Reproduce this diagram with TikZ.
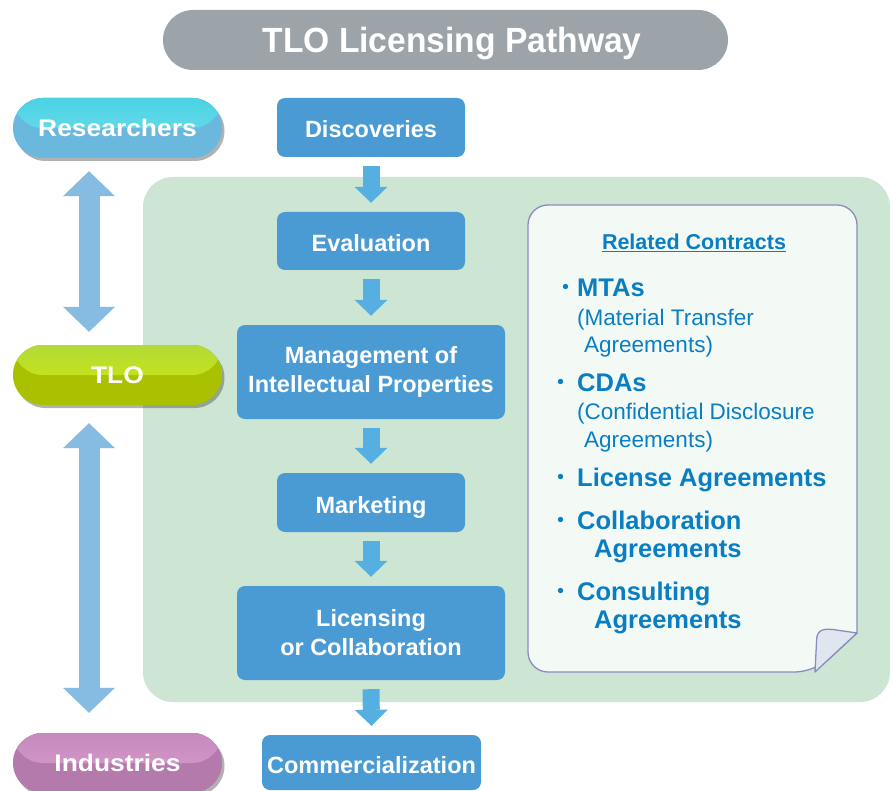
\documentclass[tikz,border=0pt]{standalone}
\usepackage{fontspec}
\usepackage{graphicx}
\setmainfont{Liberation Sans}
\newfontfamily\cjkfont{Noto Sans CJK JP}
\usetikzlibrary{arrows.meta,shadows,calc}

\definecolor{titlegray}{HTML}{9CA4A9}
\definecolor{bggreen}{HTML}{CDE6D3}
\definecolor{boxblue}{HTML}{4A9BD4}
\definecolor{arrowblue}{HTML}{55AFE1}
\definecolor{dblblue}{HTML}{86BBE2}
\definecolor{notetext}{HTML}{0A7EC3}
\definecolor{notefill}{HTML}{F3FAF6}
\definecolor{noteline}{HTML}{8A8CC0}
\definecolor{foldfill}{HTML}{E0E6F0}
\definecolor{restop}{HTML}{4AD3E4}
\definecolor{resmid}{HTML}{78DEEB}
\definecolor{resbot}{HTML}{6AB8DE}
\definecolor{tlotop}{HTML}{B2DB38}
\definecolor{tlomid}{HTML}{D4E800}
\definecolor{tlobot}{HTML}{A9C100}
\definecolor{indtop}{HTML}{C68ABD}
\definecolor{indmid}{HTML}{D9A0CD}
\definecolor{indbot}{HTML}{B47AAB}

\tikzset{
  titlepill/.style={fill=titlegray, rounded corners=30pt, minimum width=565pt, minimum height=60pt, inner sep=0pt, text=white,
    font=\fontsize{35}{40}\selectfont\bfseries, text height=25pt, text depth=0pt},
  panel/.style={fill=bggreen, rounded corners=30pt, minimum width=747pt, minimum height=525pt, inner sep=0pt},
  pillbase/.style={minimum width=209pt, minimum height=60pt, rounded corners=30pt, inner sep=0pt, text=white,
    font=\fontsize{24}{28}\selectfont\bfseries, text height=17.5pt, text depth=0pt,
    drop shadow={shadow xshift=2.5pt, shadow yshift=-3pt, opacity=0.4, fill=black!75}},
  respill/.style={pillbase, fill=resbot, path picture={\fill[top color=restop, bottom color=resmid]
      (path picture bounding box.north west) rectangle (path picture bounding box.east);}},
  tlopill/.style={pillbase, fill=tlobot, path picture={\fill[top color=tlotop, bottom color=tlomid]
      (path picture bounding box.north west) rectangle (path picture bounding box.east);}},
  indpill/.style={pillbase, fill=indbot, path picture={\fill[top color=indtop, bottom color=indmid]
      (path picture bounding box.north west) rectangle (path picture bounding box.east);}},
  bluebox/.style={fill=boxblue, rounded corners=8pt, inner sep=0pt, text=white, align=center,
    font=\fontsize{23.5}{29}\selectfont\bfseries},
  oneline/.style={text height=21pt, text depth=0pt},
  smallarrow/.style={draw=arrowblue, line width=17pt, -{Triangle[width=33pt,length=16pt,line width=0pt]}},
  dblarrow/.style={draw=dblblue, line width=21pt,
    {Triangle[width=52pt,length=25pt,line width=0pt]}-{Triangle[width=52pt,length=25pt,line width=0pt]}},
  notecard/.style={draw=noteline, fill=notefill, line width=1.3pt},
  notehead/.style={anchor=base west, inner sep=0pt, text=notetext, font=\fontsize{25.5}{30}\selectfont\bfseries},
  notesub/.style={anchor=base west, inner sep=0pt, text=notetext, font=\fontsize{22.5}{26}\selectfont},
  notebullet/.style={anchor=base, inner sep=0pt, text=notetext, font=\cjkfont\fontsize{25}{30}\selectfont},
}

\begin{document}
\begin{tikzpicture}[x=1pt,y=-1pt]
\useasboundingbox (0,0) rectangle (893,791);
\fill[white] (0,0) rectangle (893,791);

% background panel
\node[panel] (panel) at (516.5,439.5) {};

% title
\node[titlepill] (title) at (445.5,40) {\hspace*{13pt}\scalebox{0.96}[1]{TLO Licensing Pathway}};

% left pills
\node[respill] (res) at (117.5,128) {\scalebox{1.1}[1]{Researchers}};
\node[tlopill] (tlo) at (117.5,375) {\scalebox{1.1}[1]{TLO}};
\node[indpill] (ind) at (117.5,763) {\scalebox{1.1}[1]{Industries}};

\coordinate (ax) at (89,0);
\draw[dblarrow] ($(res.south -| ax)+(0,13)$) -- ($(tlo.north -| ax)+(0,-13)$);
\draw[dblarrow] ($(tlo.south -| ax)+(0,18)$) -- ($(ind.north -| ax)+(0,-20)$);

% pathway boxes
\node[bluebox, oneline, minimum width=188pt, minimum height=59pt] (disc) at (371,127.5) {Discoveries};
\node[bluebox, oneline, minimum width=188pt, minimum height=58pt] (eval) at (371,241) {Evaluation};
\node[bluebox, minimum width=268pt, minimum height=94pt] (mgmt) at (371,372) {\raisebox{-2pt}{\parbox{260pt}{\centering Management of\\Intellectual Properties}}};
\node[bluebox, oneline, minimum width=188pt, minimum height=59pt] (mkt) at (371,502.5) {Marketing};
\node[bluebox, minimum width=268pt, minimum height=94pt] (lic) at (371,633) {\raisebox{-2pt}{\parbox{260pt}{\centering Licensing\\or Collaboration}}};
\node[bluebox, oneline, minimum width=219pt, minimum height=55pt] (comm) at (371.5,762.5) {Commercialization};

\draw[smallarrow] ([yshift=-9pt]disc.south) -- ([yshift=9pt]eval.north);
\draw[smallarrow] ([yshift=-9pt]eval.south) -- ([yshift=9pt]mgmt.north);
\draw[smallarrow] ([yshift=-9pt]mgmt.south) -- ([yshift=9pt]mkt.north);
\draw[smallarrow] ([yshift=-9pt]mkt.south) -- ([yshift=9pt]lic.north);
\draw[smallarrow] ([yshift=-9pt]lic.south) -- ([yshift=9pt]comm.north);

% note card
\draw[notecard] (857,633) [rounded corners=20pt] -- (857,205) -- (528,205) -- (528,672) -- (815,672) [sharp corners] -- cycle;
\draw[notecard, fill=foldfill, line join=round] (857,633) -- (833,629.5) .. controls (820,628) and (816.5,632) .. (816.5,642) -- (815,672) -- cycle;

\node[anchor=base, inner sep=0pt, text=notetext, font=\fontsize{21.5}{26}\selectfont\bfseries] (rc) at (694,250) {\underline{Related Contracts}};

\node[notebullet] (b1) at (566,297) {・};
\node[notehead] (mta) at (577,297) {MTAs};
\node[notesub] (mta1) at (577,325) {(Material Transfer};
\node[notesub] (mta2) at (584,352) {Agreements)};

\node[notebullet] (b2) at (561,391) {・};
\node[notehead] (cda) at (577,391) {CDAs};
\node[notesub] (cda1) at (577,419) {(Confidential Disclosure};
\node[notesub] (cda2) at (584,447) {Agreements)};

\node[notebullet] (b3) at (561,486) {・};
\node[notehead] (la) at (577,486) {License Agreements};

\node[notebullet] (b4) at (561,529) {・};
\node[notehead] (ca) at (577,529) {Collaboration};
\node[notehead] (ca2) at (594,557) {Agreements};

\node[notebullet] (b5) at (561,600) {・};
\node[notehead] (co) at (577,600) {Consulting};
\node[notehead] (co2) at (594,628) {Agreements};
\end{tikzpicture}
\end{document}
